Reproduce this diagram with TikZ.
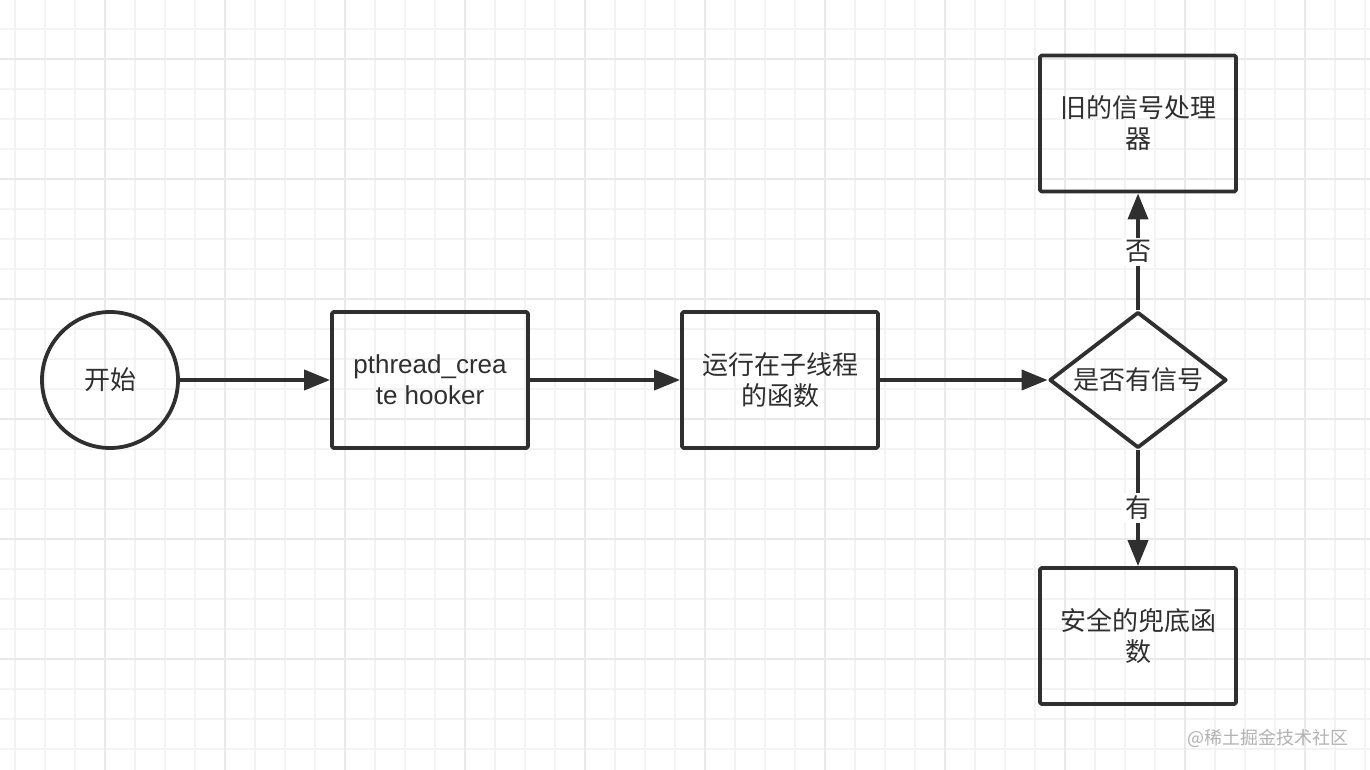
\documentclass[tikz,border=0pt]{standalone}
\usepackage{fontspec}
\setmainfont{Liberation Sans}
\newfontfamily\cjk{Noto Sans CJK SC}
\usetikzlibrary{arrows.meta,shapes.geometric}
\definecolor{ink}{HTML}{2F2F2F}
\definecolor{gridminor}{HTML}{F3F3F3}
\definecolor{gridmajor}{HTML}{E9E9E9}
\tikzset{
  box/.style={draw=ink,line width=3.8pt,rectangle,rounded corners=1.5pt,minimum width=196pt,minimum height=136pt,align=center,inner sep=0pt},
  startnode/.style={draw=ink,line width=3.8pt,circle,minimum size=136pt,inner sep=0pt},
  choice/.style={draw=ink,line width=3.8pt,diamond,aspect=1.3,minimum width=177pt,minimum height=136pt,inner sep=0pt},
  flow/.style={draw=ink,line width=3.8pt,-{Triangle[length=26pt,width=20pt]}},
  yesno/.style={fill=white,inner sep=3pt,text=ink},
}
\begin{document}
\begin{tikzpicture}[x=1pt,y=-1pt,line join=round,text=ink,font=\cjk\fontsize{26}{31}\selectfont]
	\useasboundingbox[fill=white] (0,0) rectangle (1370,770);
	% grid
	\foreach \x in {15,45,...,1365} \draw[gridminor,line width=1.3pt] (\x,0) -- (\x,770);
	\foreach \y in {29,59,...,769} \draw[gridminor,line width=1.3pt] (0,\y) -- (1370,\y);
	\foreach \x in {105,225,...,1365} \draw[gridmajor,line width=1.5pt] (\x,0) -- (\x,770);
	\foreach \y in {59,179,...,769} \draw[gridmajor,line width=1.5pt] (0,\y) -- (1370,\y);
	% nodes
	\node[startnode] (start) at (110,380) {开始};
	\node[box,font=\rmfamily\fontsize{26}{31}\selectfont] (hook) at (430,380) {pthread\_crea\\te hooker};
	\node[box] (run) at (780,380) {运行在子线程\\的函数};
	\node[choice] (sig) at (1138,380) {是否有信号};
	\node[box] (old) at (1138,123.5) {旧的信号处理\\器};
	\node[box] (safe) at (1138,636) {安全的兜底函\\数};
	% connectors
	\draw[flow] (start) -- (hook);
	\draw[flow] (hook) -- (run);
	\draw[flow] (run) -- (sig);
	\draw[flow] (sig) -- node[yesno] {否} (old);
	\draw[flow] (sig) -- node[yesno] {有} (safe);
	\node[text=black!30,font=\cjk\fontsize{18}{20}\selectfont] (mark) at (1268,738) {@稀土掘金技术社区};
\end{tikzpicture}
\end{document}
